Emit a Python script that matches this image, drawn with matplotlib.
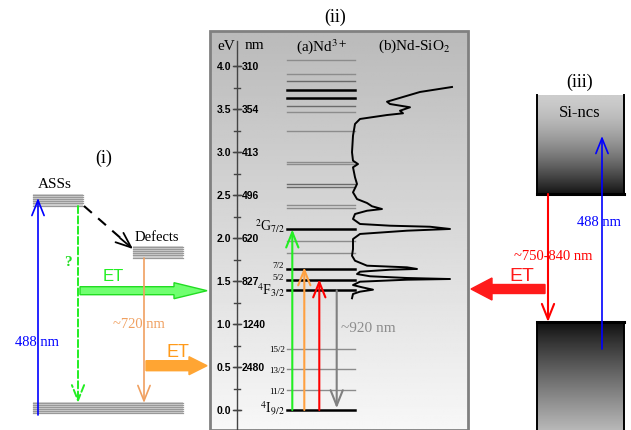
import numpy as np
import matplotlib
matplotlib.use('Agg')
import matplotlib.pyplot as plt
from matplotlib.patches import FancyArrow, Rectangle

plt.rcParams['font.family'] = 'Liberation Serif'
plt.rcParams['mathtext.fontset'] = 'stix'

# ---- data ----
ev_ticks = [0.0, 0.5, 1.0, 1.5, 2.0, 2.5, 3.0, 3.5, 4.0]
nm_ticks = ['', '2480', '1240', '827', '620', '496', '413', '354', '310']

# Nd3+ levels (eV); 0 = thin grey, 1 = dark grey, 2 = bold black
nd_levels = [4.07, 3.91, 3.83, 3.72, 3.63, 3.53, 3.47, 3.24, 2.885, 2.86,
             2.625, 2.595, 2.385, 2.35, 2.10, 1.96, 1.82, 1.64, 1.51, 1.39,
             0.71, 0.48, 0.23, 0.0]
nd_style = [0, 0, 1, 2, 2, 1, 0, 0, 0, 0,
            1, 1, 0, 0, 2, 0, 0, 2, 2, 2,
            0, 0, 0, 2]

# Nd-SiO2 excitation spectrum, energy (eV) vs intensity (a.u.)
spec_ev = [3.756, 3.698, 3.585, 3.558, 3.520, 3.480, 3.450, 3.430, 3.384, 3.326,
           3.190, 2.997, 2.899, 2.860, 2.822, 2.706, 2.628, 2.531, 2.453, 2.407,
           2.369, 2.337, 2.317, 2.279, 2.221, 2.163, 2.143, 2.131, 2.105, 2.085,
           2.047, 1.988, 1.872, 1.794, 1.736, 1.678, 1.659, 1.640, 1.631, 1.608,
           1.581, 1.555, 1.535, 1.523, 1.515, 1.492, 1.453, 1.427, 1.399, 1.376,
           1.349, 1.299]
spec_int = [1.01, 0.69, 0.36, 0.39, 0.59, 0.49, 0.52, 0.36, 0.09, 0.04,
            0.02, 0.01, 0.02, 0.07, 0.02, 0.04, 0.06, 0.02, 0.06, 0.16,
            0.21, 0.31, 0.16, 0.04, 0.02, 0.09, 0.39, 0.79, 0.99, 0.56,
            0.09, 0.02, 0.02, 0.01, 0.04, 0.16, 0.56, 0.66, 0.39, 0.09,
            0.06, 0.19, 0.56, 0.99, 0.56, 0.09, 0.02, 0.11, 0.22, 0.09,
            0.02, 0.01]


def arrow(ax, x0, y0, x1, y1, color, ls='-', lw=1.2):
    ax.annotate('', xy=(x1, y1), xytext=(x0, y0),
                arrowprops=dict(arrowstyle='->,head_length=0.55,head_width=0.22',
                                color=color, lw=lw, ls=ls, shrinkA=0, shrinkB=0,
                                mutation_scale=20))


fig = plt.figure(figsize=(6.31, 4.31), dpi=100)

# main canvas in pixel units
ax0 = fig.add_axes([0, 0, 1, 1])
ax0.axis('off')

# ---------------- panel (i) ----------------
ax0.text(104, 158, '(i)', fontsize=13, ha='center', va='center')
for x0, x1, y0 in [(33, 83, 195), (133, 183, 247), (33, 183, 403)]:
    ax0.add_patch(Rectangle((x0, y0), x1 - x0, 12, fc='#d4d4d4', ec='none'))
    for k in range(6):
        ax0.plot([x0, x1], [y0 + 1 + 2.1 * k] * 2, color='#999999', lw=0.9)
ax0.text(55, 185, 'ASSs', fontsize=11, ha='center', va='center')
ax0.text(157, 238, 'Defects', fontsize=10.5, ha='center', va='center')

ax0.plot([84, 124], [207, 242], color='black', lw=1.5, ls=(0, (5, 4)))
arrow(ax0, 120, 239, 133, 250, 'black', lw=1.3)

arrow(ax0, 38, 416, 38, 199, 'blue')
ax0.text(37, 343, '488 nm', fontsize=10.5, color='blue', ha='center', va='center')

arrow(ax0, 78, 207, 78, 404, '#22ee22', ls='--', lw=1.4)
ax0.text(68, 263, '?', fontsize=11, color='#22dd22', ha='center', va='center',
         fontweight='bold')

arrow(ax0, 144, 259, 144, 404, '#f0a060')
ax0.text(139, 325, '~720 nm', fontsize=10.5, color='#f0a060', ha='center', va='center')

ax0.add_patch(FancyArrow(80, 291.7, 127, 0, width=8, head_width=16, head_length=33,
                         length_includes_head=True, fc='#70ff70', ec='#22dd22', lw=1))
ax0.text(113, 277, 'ET', fontsize=12, color='#22ee22', ha='center', va='center',
         family='Liberation Sans')
ax0.add_patch(FancyArrow(146, 366.7, 61, 0, width=10, head_width=18, head_length=18,
                         length_includes_head=True, fc='#ffa533', ec='#ffa533', lw=1))
ax0.text(178, 353, 'ET', fontsize=13, color='#ff9a1a', ha='center', va='center',
         family='Liberation Sans')

# ---------------- panel (iii) ----------------
ax0.text(580, 82, '(iii)', fontsize=13, ha='center', va='center')
t = np.linspace(0, 1, 200)[:, None]
top_grad = 0.80 - 0.72 * t ** 1.6
bot_grad = 0.06 + 0.66 * t ** 0.9
ax0.imshow(top_grad, cmap='gray', vmin=0, vmax=1, extent=(537, 624, 195, 96),
           aspect='auto', origin='upper')
ax0.imshow(bot_grad, cmap='gray', vmin=0, vmax=1, extent=(537, 624, 431, 323),
           aspect='auto', origin='upper')
for x in (537, 624):
    ax0.plot([x, x], [96, 195], color='black', lw=1.4)
    ax0.plot([x, x], [323, 431], color='black', lw=1.4)
ax0.plot([537, 624], [195, 195], color='black', lw=2.2)
ax0.plot([537, 624], [323, 323], color='black', lw=2.2)
ax0.text(580, 113, 'Si-ncs', fontsize=12, ha='center', va='center')

arrow(ax0, 548, 195, 548, 323, 'red', lw=1.5)
arrow(ax0, 602, 350, 602, 137, 'blue')
ax0.text(599, 223, '488 nm', fontsize=10.5, color='blue', ha='center', va='center')
ax0.text(553, 257, '~750-840 nm', fontsize=10.5, color='red', ha='center', va='center')
ax0.add_patch(FancyArrow(545, 290, -74, 0, width=9, head_width=22, head_length=21,
                         length_includes_head=True, fc='#ff1a1a', ec='#ff1a1a', lw=1))
ax0.text(522, 277, 'ET', fontsize=14, color='#ff1a1a', ha='center', va='center',
         family='Liberation Sans')

ax0.text(335, 17, '(ii)', fontsize=13, ha='center', va='center')
ax0.set_xlim(0, 631)
ax0.set_ylim(431, 0)

# ---------------- panel (ii) : energy axis in eV ----------------
e_bot = (411 - 431) / 86.0
e_top = (411 - 32) / 86.0
ax2 = fig.add_axes([210 / 631, 0, 258 / 631, 399 / 431])
ax2.axis('off')
grad = np.linspace(0.73, 0.97, 200)[:, None]
ax2.imshow(grad, cmap='gray', vmin=0, vmax=1, extent=(210, 468, e_bot, e_top),
           aspect='auto', origin='upper')
ax2.add_patch(Rectangle((0, 0), 1, 1, transform=ax2.transAxes, fill=False,
                        ec='#808080', lw=2, clip_on=False))

# eV / nm scale
ax2.plot([236.7, 236.7], [e_bot, 4.29], color='#444444', lw=1)
for e in np.arange(0, 4.01, 0.25):
    ax2.plot([234, 239.5], [e, e], color='#444444', lw=1)
for e, nm in zip(ev_ticks, nm_ticks):
    ax2.plot([232.5, 240.5], [e, e], color='#444444', lw=1)
    ax2.text(231, e, '%.1f' % e, fontsize=7.5, fontweight='bold', ha='right',
             va='center', family='Liberation Sans')
    ax2.text(242, e, nm, fontsize=7.5, fontweight='bold', ha='left',
             va='center', family='Liberation Sans')

ax2.text(226, 4.24, 'eV', fontsize=11, ha='center', va='center')
ax2.text(254, 4.25, 'nm', fontsize=11, ha='center', va='center')
ax2.text(322, 4.24, '(a)Nd$^{3+}$', fontsize=11, ha='center', va='center')
ax2.text(414, 4.24, '(b)Nd-SiO$_2$', fontsize=11, ha='center', va='center')

styles = {0: ('#8c8c8c', 1.0), 1: ('#6a6a6a', 1.0), 2: ('black', 1.8)}
for e, s in zip(nd_levels, nd_style):
    c, w = styles[s]
    ax2.plot([287, 355], [e, e], color=c, lw=w)

ax2.text(285, 2.145, '$^2$G$_{7/2}$', fontsize=10, ha='right', va='center')
ax2.text(284, 1.685, '7/2', fontsize=6.5, ha='right', va='center')
ax2.text(284, 1.55, '5/2', fontsize=6.5, ha='right', va='center')
ax2.text(285, 1.40, '$^4$F$_{3/2}$', fontsize=10, ha='right', va='center')
ax2.text(285, 0.71, '15/2', fontsize=6.5, ha='right', va='center')
ax2.text(285, 0.46, '13/2', fontsize=6.5, ha='right', va='center')
ax2.text(285, 0.22, '11/2', fontsize=6.5, ha='right', va='center')
ax2.text(285, 0.04, '$^4$I$_{9/2}$', fontsize=10, ha='right', va='center')

arrow(ax2, 292.3, 0.0, 292.3, 2.10, '#22ee22', lw=1.5)
arrow(ax2, 304.3, 0.0, 304.3, 1.66, '#ffa040', lw=1.5)
arrow(ax2, 319.3, 0.0, 319.3, 1.52, 'red', lw=1.5)
arrow(ax2, 336.7, 1.39, 336.7, 0.02, '#808080', lw=1.5)
ax2.text(341, 0.965, '~920 nm', fontsize=11, color='#8c8c8c', ha='left', va='center')

ax2.plot(351 + 100 * np.array(spec_int), spec_ev, color='black', lw=1.4)

ax2.set_xlim(210, 468)
ax2.set_ylim(e_bot, e_top)

plt.savefig('out.png', dpi=100)
